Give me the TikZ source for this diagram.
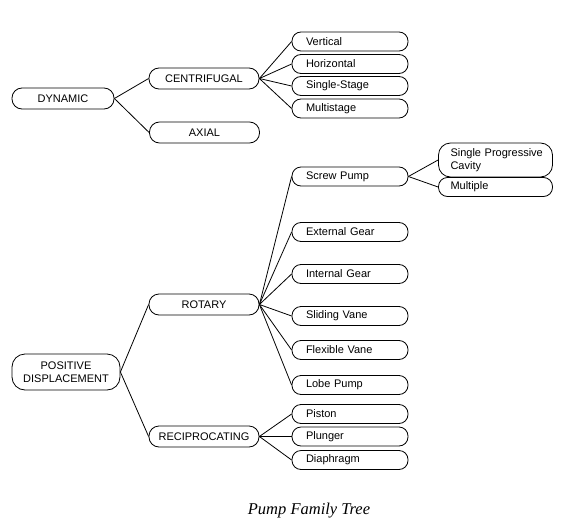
\documentclass[tikz,border=0pt]{standalone}
\usepackage{fontspec}
\setmainfont{Liberation Sans}
\newfontfamily\captionfont{Liberation Serif}
\tikzset{
	groupbox/.style={draw=black, thick, rounded corners=10pt, minimum width=110pt,
		minimum height=21pt, inner sep=0pt, align=center,
		font=\fontsize{11pt}{13.5pt}\selectfont},
	leafbox/.style={draw=black, thick, rounded corners=9pt, text width=88pt,
		inner xsep=14pt, inner ysep=0pt, minimum height=19pt, align=left,
		font=\fontsize{11pt}{13.5pt}\selectfont},
	branch/.style={thick, draw=black}
}
\begin{document}
\begin{tikzpicture}[x=1pt, y=-1pt]
	\useasboundingbox (0,0) rectangle (567,527);
	% Hauptgruppen
	\node[groupbox, minimum width=102pt] (dynamic) at (63,98.5) {DYNAMIC};
	\node[groupbox, minimum width=108pt, minimum height=36pt, rounded corners=13pt]
		(positive) at (66,372) {POSITIVE\\DISPLACEMENT};
	% Untergruppen
	\node[groupbox] (centrifugal) at (204,78.5) {CENTRIFUGAL};
	\node[groupbox] (axial) at (204.5,132.5) {AXIAL};
	\node[groupbox] (rotary) at (204,304.5) {ROTARY};
	\node[groupbox] (reciprocating) at (204,436.5) {RECIPROCATING};
	% Pumpentypen
	\node[leafbox] (vertical) at (350,41.5) {Vertical};
	\node[leafbox] (horizontal) at (350,64) {Horizontal};
	\node[leafbox] (singlestage) at (350,86) {Single-Stage};
	\node[leafbox] (multistage) at (350,108.5) {Multistage};
	\node[leafbox] (screw) at (350,176.5) {Screw Pump};
	\node[leafbox] (external) at (350,232) {External Gear};
	\node[leafbox] (internal) at (350,274) {Internal Gear};
	\node[leafbox] (sliding) at (350,316) {Sliding Vane};
	\node[leafbox] (flexible) at (350,350) {Flexible Vane};
	\node[leafbox] (lobe) at (350,385) {Lobe Pump};
	\node[leafbox] (piston) at (350,414) {Piston};
	\node[leafbox] (plunger) at (350,436.5) {Plunger};
	\node[leafbox] (diaphragm) at (350,460) {Diaphragm};
	% Schraubenpumpen
	\node[leafbox, text width=90pt, inner xsep=12pt, minimum height=34pt,
		rounded corners=12pt] (progressive) at (495.5,160)
		{\mbox{Single Progressive}\\Cavity};
	\node[leafbox, text width=90pt, inner xsep=12pt] (multiple) at (495.5,187)
		{Multiple};
	% Verbindungen
	\draw[branch] (dynamic.east) -- (centrifugal.west);
	\draw[branch] (dynamic.east) -- (axial.west);
	\draw[branch] (positive.east) -- (rotary.west);
	\draw[branch] (positive.east) -- (reciprocating.west);
	\foreach \x in {vertical,horizontal,singlestage,multistage}
		\draw[branch] (centrifugal.east) -- (\x.west);
	\foreach \x in {screw,external,internal,sliding,flexible,lobe}
		\draw[branch] (rotary.east) -- (\x.west);
	\foreach \x in {piston,plunger,diaphragm}
		\draw[branch] (reciprocating.east) -- (\x.west);
	\foreach \x in {progressive,multiple}
		\draw[branch] (screw.east) -- (\x.west);
	% Bildunterschrift
	\node (caption) at (309,511)
		{\captionfont\itshape\fontsize{16.5pt}{19pt}\selectfont Pump Family Tree};
\end{tikzpicture}
\end{document}
